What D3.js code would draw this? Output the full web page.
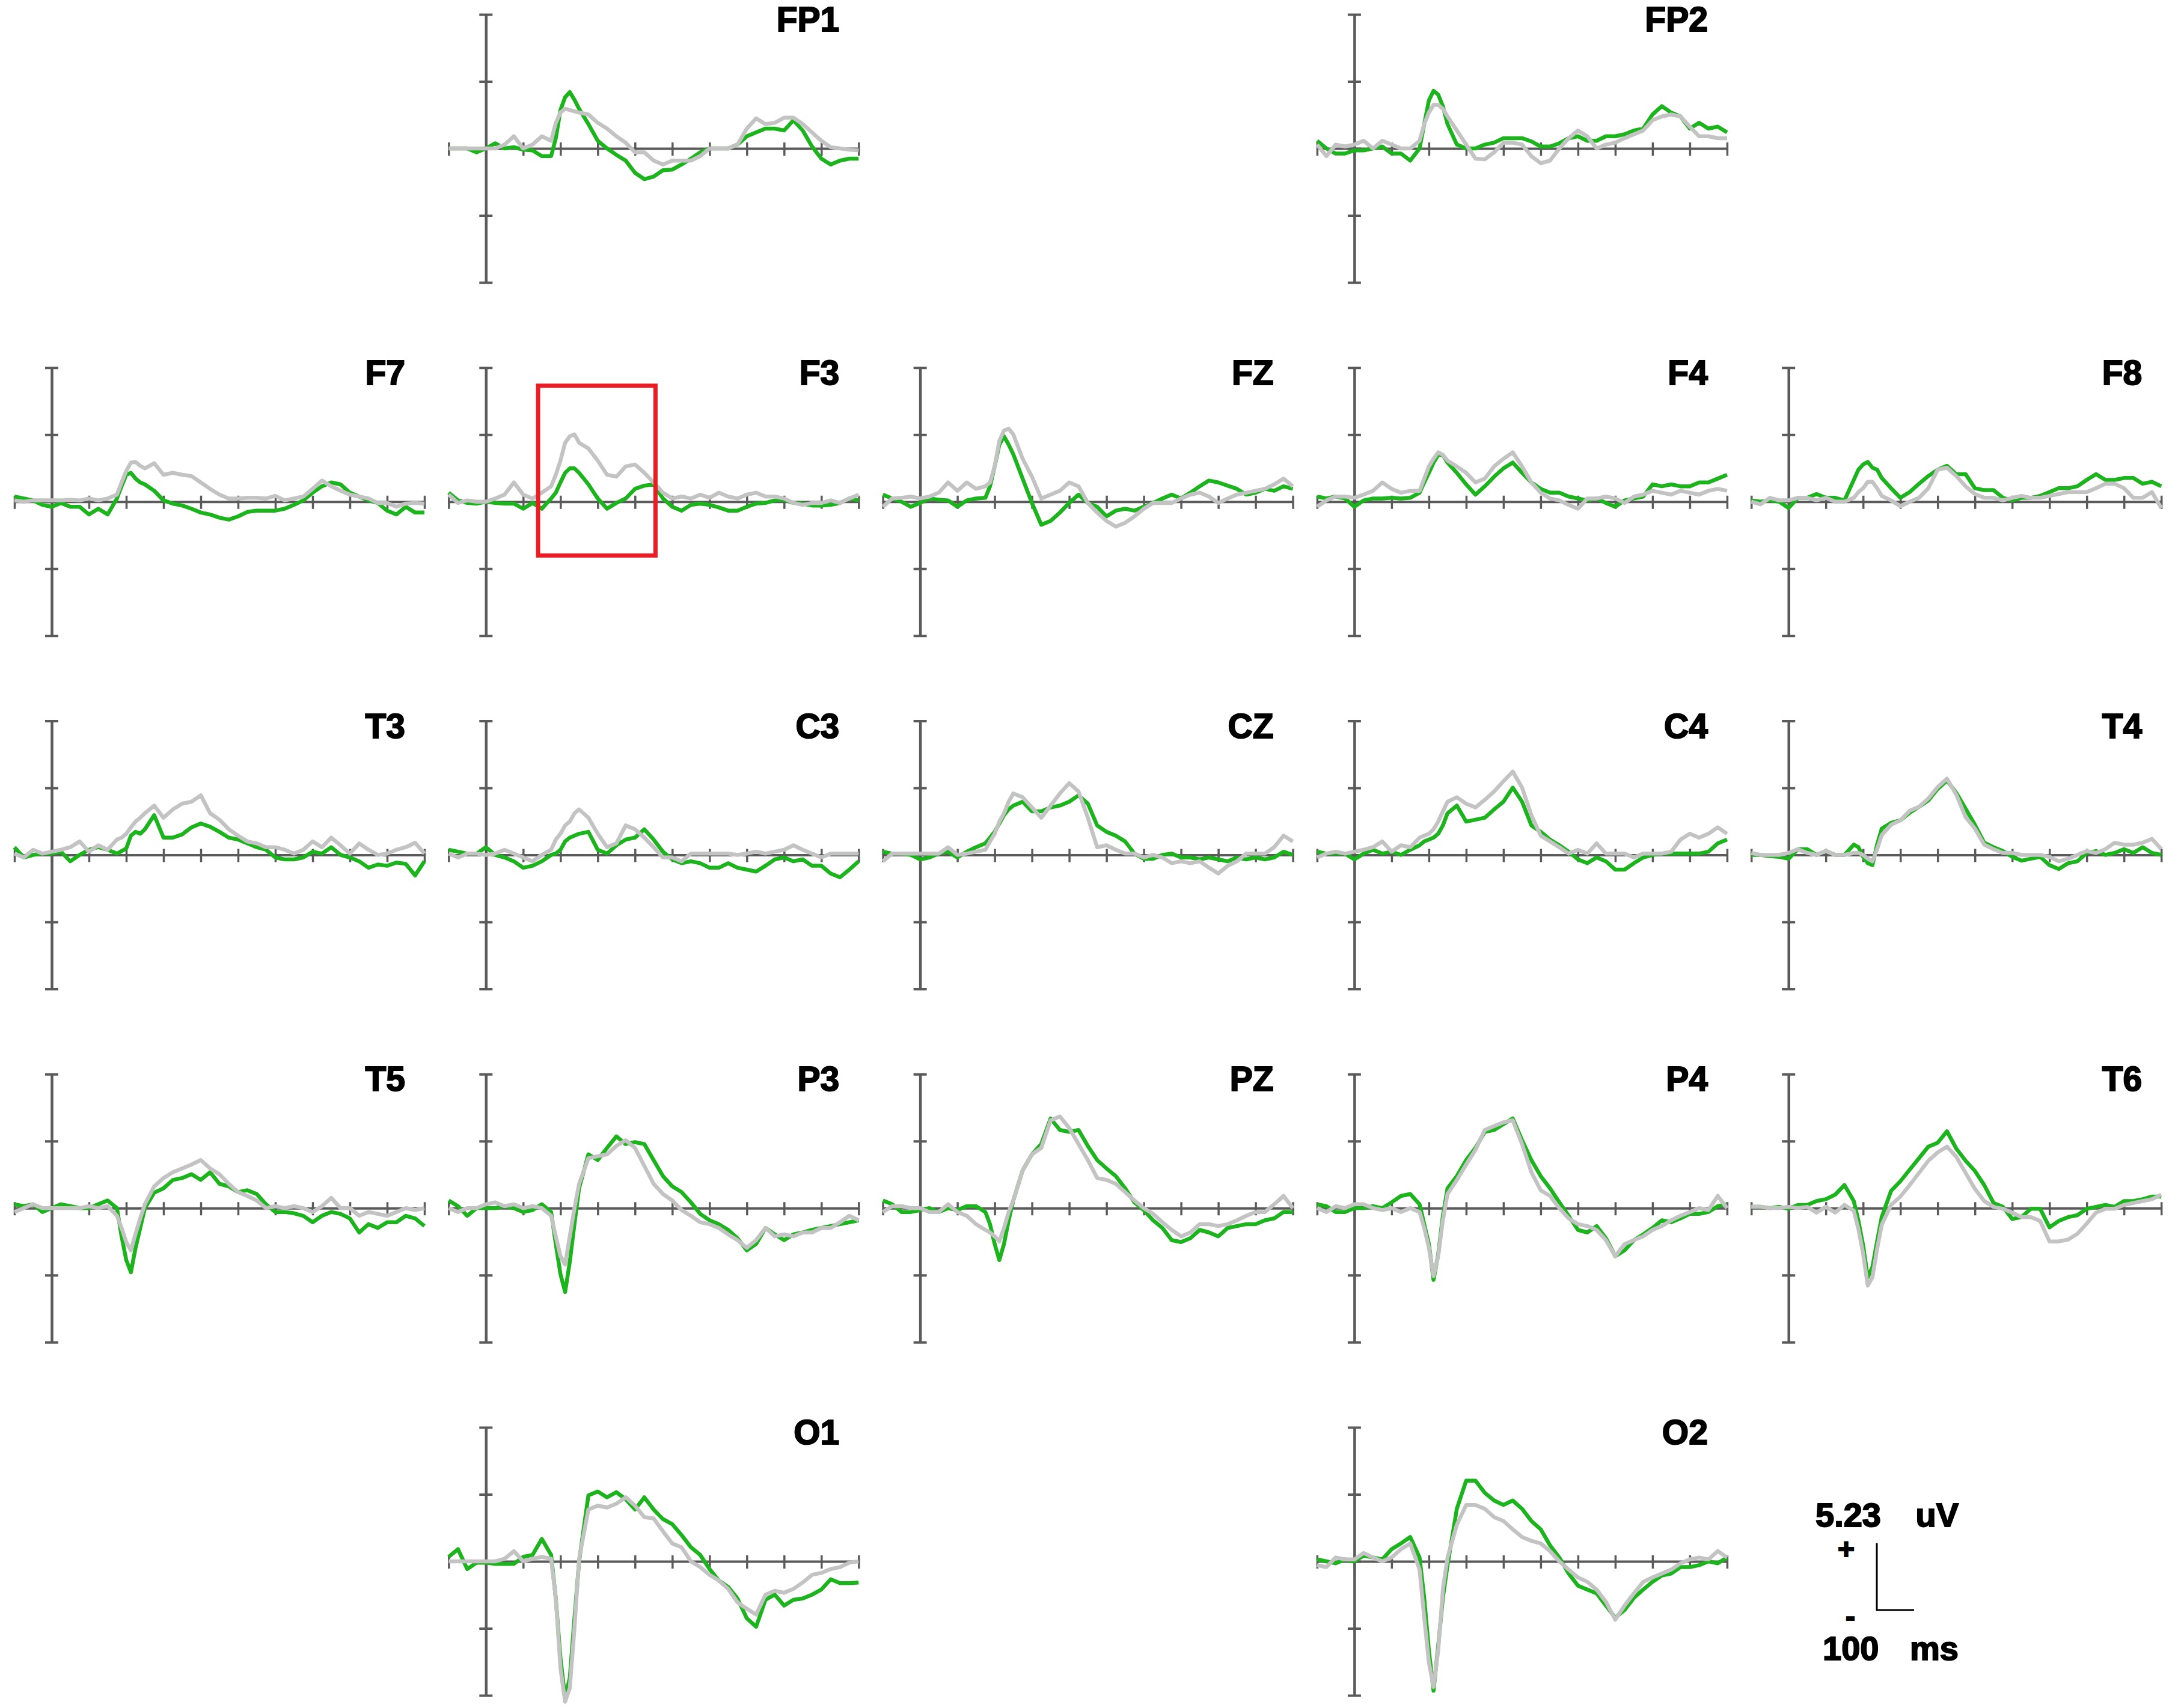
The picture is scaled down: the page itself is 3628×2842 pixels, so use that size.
<!DOCTYPE html>
<html><head><meta charset="utf-8">
<script src="https://cdn.jsdelivr.net/npm/d3@7"></script>
<style>html,body{margin:0;padding:0;background:#fff}</style>
</head><body><svg id="chart" width="3628" height="2842"></svg>
<script>
// ---------- DATA ----------
const times = [-100,-75,-50,-25,0,25,50,75,100,125,150,175,187.5,200,212.5,225,237.5,250,275,300,325,350,375,400,425,450,475,500,525,550,575,600,625,650,675,700,725,750,775,800,825,850,875,900,925,950,975,1000];
const xTicks = [-100,0,100,200,300,400,500,600,700,800,900,1000];
const scaleAmp = 5.23;   // uV per tick
const scaleTime = 100;   // ms
const yTicks = [-2*scaleAmp, -scaleAmp, 0, scaleAmp, 2*scaleAmp];

const FP1_green = [0,0,0,-0.3,0,0.4,0,0.1,-0.1,-0.15,-0.6,-0.6, 0.8,3.0,4.0,4.4,3.8, 3.1,1.9,0.6,0,-0.5,-0.95,-1.9,-2.4,-2.2,-1.7,-1.65,-1.25,-0.8,-0.3,0,0,0,0.3,0.95,1.25,1.55,1.55,1.4,2.2,1.4,0.15,-0.8,-1.25,-0.95,-0.8,-0.8];
const FP1_gray = [0,0,0,0,0,0,0.3,0.95,0,0.3,0.95,0.6, 2.0,2.8,3.1,3.0,2.9, 2.8,2.65,2.0,1.55,0.95,0.45,-0.3,-0.3,-0.95,-1.25,-0.95,-0.95,-0.95,-0.6,0,0,0,0.3,1.55,2.35,1.9,2.0,2.4,2.4,1.9,1.25,0.6,0.1,0,-0.1,-0.15];
const FP2_green = [0.6,0,-0.4,-0.4,-0.15,-0.15,0,0.15,-0.4,-0.4,-0.95,0, 1.9,3.75,4.5,4.2,3.3, 1.9,0.3,0,0,0.3,0.45,0.8,0.8,0.8,0.55,0.15,0.15,0.4,0.8,0.95,0.6,0.6,0.95,0.95,1.1,1.4,1.55,2.65,3.3,2.8,2.5,1.55,2.0,1.55,1.7,1.25];
const FP2_gray = [0.3,-0.6,0.3,0.15,0.3,0.6,0,0.6,0.3,0,0,0.6, 1.9,2.8,3.4,3.4,3.1, 2.5,1.4,0.3,-0.8,-0.85,-0.3,0.45,0.45,0.3,-0.6,-1.15,-0.95,0,0.8,1.4,0.95,0,0.3,0.45,0.8,1.1,1.4,2.2,2.5,2.65,2.5,1.7,0.95,0.95,0.8,0.8];
const F7_green = [0.4,0.25,0.1,-0.25,-0.4,-0.1,-0.4,-0.4,-1.0,-0.55,-1.0,0.25, 1.2,2.1,2.25,1.8,1.5, 1.35,0.85,0.1,-0.15,-0.3,-0.55,-0.85,-1.0,-1.25,-1.4,-1.15,-0.8,-0.7,-0.7,-0.7,-0.55,-0.25,0.1,0.7,1.2,1.5,1.35,0.7,0.4,0.1,-0.1,-0.7,-1.0,-0.4,-0.85,-0.85];
const F7_gray = [0.1,0,0.1,0.1,0.1,0.1,0.15,0.1,0.25,0.1,0.25,0.55, 1.5,2.4,3.05,3.1,2.8, 2.6,3.0,2.1,2.25,2.1,2.0,1.5,1.0,0.55,0.25,0.25,0.3,0.3,0.25,0.45,0.1,0.25,0.4,1.0,1.65,1.2,0.85,0.55,0.4,0.25,-0.1,-0.1,-0.4,-0.15,-0.1,-0.15];
const F3_green = [0.7,0.1,-0.1,-0.15,0,-0.1,-0.15,-0.15,-0.55,-0.1,-0.55,0.25, 0.7,1.5,2.25,2.6,2.6, 2.25,1.35,0.25,-0.55,-0.1,0.25,1.0,1.25,1.35,0.25,-0.4,-0.7,-0.25,-0.15,-0.25,-0.45,-0.7,-0.7,-0.4,-0.15,-0.1,0.1,0.15,-0.1,-0.15,-0.3,-0.3,-0.25,-0.1,0.25,0.1];
const F3_gray = [0.55,-0.1,0.1,0,0,0.25,0.55,1.5,0.55,0.25,0.7,1.2, 2.1,3.2,4.6,5.1,5.25, 4.6,4.15,3.2,2.1,1.95,2.75,2.9,2.25,1.5,0.7,0.25,0.4,0.25,0.55,0.3,0.7,0.4,0.25,0.55,0.7,0.4,0.4,0.25,-0.1,-0.25,-0.1,-0.1,0.1,-0.1,0.25,0.55];
const FZ_green = [0.55,0.25,0,-0.4,-0.1,0.25,0.15,0.1,-0.4,0.1,0.25,0.3, 1.2,2.75,4.45,5.1,4.45, 3.7,1.8,-0.1,-1.8,-1.5,-0.85,-0.1,0.55,-0.1,-0.4,-1.15,-0.7,-0.55,-0.7,-0.4,-0.1,0.25,0.55,0.25,0.7,1.2,1.65,1.5,1.25,1.0,0.55,0.7,1.0,0.85,1.2,1.0];
const FZ_gray = [-0.4,0.25,0.3,0.4,0.25,0.4,0.7,1.5,0.85,1.5,1.0,1.2, 1.5,2.75,4.75,5.55,5.7, 5.25,3.35,1.95,0.25,0.55,0.85,1.5,1.2,-0.1,-0.85,-1.5,-1.95,-1.65,-1.15,-0.55,-0.1,-0.1,-0.1,0.25,0.55,0.7,0.4,-0.1,0.25,0.55,0.7,0.85,1.0,1.35,1.8,1.2];
const F4_green = [0.4,0.25,0.4,0.25,-0.4,0.1,0.25,0.25,0.3,0.25,0.3,0.7, 1.5,2.25,3.05,3.65,3.65, 3.05,2.25,1.35,0.55,1.2,1.95,2.6,3.05,2.25,1.5,1.0,0.7,0.7,0.4,0.25,0.1,0.25,-0.1,-0.4,0.1,0.25,0.4,1.35,1.2,1.35,1.2,1.2,1.5,1.5,1.8,2.1];
const F4_gray = [-0.4,0.1,0.4,0.4,0.3,0.55,0.85,1.5,1.0,0.7,0.85,0.85, 1.8,2.75,3.35,3.85,3.65, 3.2,2.75,2.25,1.5,1.8,2.75,3.35,3.85,2.75,1.5,0.7,0.25,0.1,-0.25,-0.55,0.25,0.25,0.4,0.25,-0.1,0.4,0.55,0.85,0.7,0.55,0.85,0.7,0.55,0.85,1.0,0.85];
const F8_green = [0.1,0,0.1,0,-0.5,0.3,0.3,0.6,0.3,0.3,0.1,1.7, 2.5,2.9,3.1,2.65,2.5, 1.85,1.05,0.3,0.75,1.4,2.0,2.5,2.8,2.15,2.15,1.05,0.9,0.9,0.3,0.1,0.3,0.3,0.45,0.75,1.05,1.05,1.2,1.7,2.15,1.7,1.7,1.85,1.85,1.4,1.55,1.2];
const F8_gray = [0,-0.2,0.3,0.1,0.1,0.3,0.3,0.1,0.3,0,0,0.3, 0.75,1.05,1.55,1.55,1.05, 0.45,0.1,-0.35,0,0.3,1.05,2.5,2.65,2.0,1.2,0.6,0.3,0.3,0.1,0.3,0.45,0.3,0.3,0.45,0.6,0.75,0.75,0.75,1.05,1.4,1.4,1.05,0.3,0.3,0.75,-0.5];
const T3_green = [0.6,-0.2,0,0.1,0.1,0.25,-0.5,0,0.4,0.6,0.4,0.1, 0.3,0.5,1.5,1.8,1.65, 2.0,3.1,1.35,1.35,1.6,2.15,2.45,2.2,1.8,1.35,1.2,0.9,0.6,0.4,-0.2,-0.35,-0.35,-0.2,0.25,0.1,0.6,0,-0.2,-0.5,-1.0,-0.75,-0.85,-0.6,-0.7,-1.6,-0.5];
const T3_gray = [0.1,-0.2,0.4,0.1,0.25,0.4,0.6,1.05,0.25,0.75,0.4,1.2, 1.35,1.65,2.15,2.6,2.9, 3.25,3.85,2.9,3.55,4.0,4.15,4.65,3.25,2.75,2.0,1.5,1.05,0.9,0.6,0.6,0.4,0.1,0.4,1.05,0.6,1.35,0.75,0.1,0.9,0.4,0,0.1,0.4,0.6,0.95,0.1];
const C3_green = [0.4,0.25,0.1,0.1,0.6,0,-0.2,-0.5,-1.0,-0.85,-0.5,0, 0.1,0.4,1.05,1.35,1.5, 1.65,1.8,0.4,0.1,0.75,1.2,1.35,2.0,1.2,0.25,-0.35,-0.65,-0.5,-0.65,-1.0,-1.0,-0.65,-1.0,-1.15,-1.3,-0.85,-0.35,-0.2,-0.5,-0.35,-0.85,-0.85,-1.45,-1.75,-1.15,-0.5];
const C3_gray = [0.1,-0.2,0.1,0.1,0,0.1,0.4,0.1,-0.2,-0.5,0,0.4, 1.2,1.65,2.3,2.6,3.25, 3.55,2.9,1.65,0.6,0.9,2.3,2.0,1.35,0.6,-0.2,-0.2,-0.5,0.1,0.1,0.1,0.1,0.1,0,0.1,0.25,0.1,0.25,0.4,0.75,0.4,0.1,-0.2,0.1,0.1,0.1,0.1];
const CZ_green = [0.25,0.1,0.1,0,-0.35,-0.2,0.1,0.25,-0.2,0.25,0.6,0.9, 1.35,1.8,2.45,3.1,3.55, 3.85,4.15,3.4,3.4,3.7,3.85,4.15,4.65,4.0,2.3,1.8,1.5,1.05,0.1,-0.3,-0.3,0,0.1,-0.2,-0.2,-0.35,-0.2,-0.35,-0.5,-0.2,-0.35,-0.2,-0.35,-0.2,0.25,0];
const CZ_gray = [-0.5,0.1,0.1,0.1,0.1,0.1,0.1,0.6,0,0.1,0.25,0.4, 1.05,1.65,2.6,3.25,4.15, 4.8,4.5,3.7,2.9,3.85,4.8,5.6,4.95,2.9,0.6,0.75,0.4,0.1,0.1,-0.2,0,-0.2,-0.65,-0.5,-0.65,-0.5,-1.0,-1.45,-0.85,-0.5,0.1,0.1,0.1,0.6,1.5,1.05];
const C4_green = [0.25,0.1,0.1,0.1,-0.35,0.1,0.4,0.1,0.25,0,0.4,0.75, 1.05,1.2,1.35,1.65,2.3, 3.25,3.85,2.6,2.75,2.9,3.55,4.15,5.25,4.15,2.3,1.8,1.2,0.75,0.25,-0.35,-0.65,-0.2,-0.5,-1.15,-1.15,-0.65,-0.2,0,0.1,0.1,0.1,0.1,0.1,0.25,0.9,1.2];
const C4_gray = [-0.2,0.1,0.25,0.1,0.25,0.4,0.6,1.05,0.25,0.75,0.6,1.35, 1.5,1.65,2.0,2.6,3.4, 4.15,4.5,4.0,3.7,4.3,4.95,5.75,6.5,5.25,3.1,1.5,1.05,0.6,0.1,0.4,0.1,0.9,0.1,0.1,0.1,-0.2,0.1,0.1,0.1,0.25,1.2,1.65,1.35,1.65,2.15,1.65];
const T4_green = [0,0,-0.1,-0.15,-0.3,0.45,0.45,0,0.3,0,0,0.8, 0.6,-0.15,-0.65,-0.8,0.8, 2.05,2.5,2.7,3.3,3.75,4.25,5.15,5.8,4.85,3.6,2.35,0.95,0.6,0.3,-0.15,-0.45,-0.3,-0.15,-0.8,-1.1,-0.65,-0.5,0.15,0.3,0,0.15,0.45,0.15,0.6,0.15,0];
const T4_gray = [0.15,0,0,0,0.15,0.45,0.15,0,0.3,0,0,0.15, 0.15,0,-0.3,-0.5,0.45, 1.55,2.35,2.7,3.45,3.75,4.4,5.3,5.95,4.7,2.95,2.05,0.8,0.45,0.15,0.15,0,0,0,-0.15,-0.5,-0.3,0,0.3,0.15,0.45,0.95,0.8,0.8,0.95,1.25,0.45];
const T5_green = [0.3,0.15,0.3,-0.3,0,0.3,0.15,0,0,0.3,0.6,0, -2.2,-4.05,-5.0,-3.1,-1.55, 0,1.2,1.55,2.2,2.35,2.65,2.2,2.8,1.9,1.7,1.25,1.4,1.1,0.3,-0.3,-0.3,-0.4,-0.6,-1.1,-0.6,-0.3,-0.45,-0.8,-1.9,-1.25,-1.55,-1.1,-1.1,-0.6,-0.8,-1.4];
const T5_gray = [-0.3,0,0.3,0,0,0,0,0,0.15,0,0.15,-0.6, -1.55,-2.65,-3.3,-2.0,-0.8, 0.3,1.7,2.35,2.8,3.1,3.4,3.75,3.1,2.65,1.9,1.25,0.95,0.6,0,0.15,0,0.15,0,-0.3,0.15,0.8,0,0,-0.6,-0.3,-0.45,-0.6,-0.3,0,-0.15,0];
const P3_green = [0.6,0.15,-0.6,0,0,0,0.15,0,-0.3,-0.15,0.3,-0.3, -2.8,-5.15,-6.55,-4.2,-1.25, 1.55,4.2,3.75,4.7,5.6,5.0,5.15,5.0,3.75,2.5,1.7,1.25,0.45,-0.45,-0.95,-1.25,-1.7,-2.35,-3.3,-2.8,-1.55,-2.05,-2.5,-2.05,-1.9,-1.7,-1.55,-1.4,-1.25,-1.1,-0.95];
const P3_gray = [0,-0.3,0,0,0.3,0.45,0.15,0.3,0,0.15,0,-0.6, -2.2,-3.75,-4.4,-2.2,0, 1.9,3.9,4.05,4.2,4.85,5.3,4.7,3.3,1.9,1.1,0.6,-0.15,-0.6,-1.1,-1.25,-1.55,-2.05,-2.5,-3.1,-2.5,-1.55,-2.2,-2.05,-2.2,-1.9,-1.9,-1.55,-1.55,-1.1,-0.6,-0.95];
const PZ_green = [0.6,0.3,-0.3,-0.3,-0.15,0,-0.3,0,-0.15,0.15,0.15,-0.3, -1.25,-2.8,-4.05,-2.8,-0.95, 0.6,2.95,4.2,5.0,7.0,6.1,5.95,6.1,4.85,3.75,3.1,2.5,1.55,0.45,-0.15,-0.95,-1.55,-2.5,-2.65,-2.35,-1.7,-1.9,-2.2,-1.55,-1.4,-1.25,-1.25,-0.95,-0.8,-0.3,-0.3];
const PZ_gray = [-0.3,0.15,0.15,0,0,-0.3,-0.3,0.3,-0.3,-0.6,-1.25,-1.7, -1.9,-2.2,-2.6,-1.55,-0.3, 0.6,2.95,4.2,4.7,6.85,7.15,6.25,5.0,3.75,2.35,2.2,1.9,1.25,0.6,0,-0.45,-1.1,-1.7,-2.2,-1.9,-1.25,-1.25,-1.4,-1.25,-0.95,-0.6,-0.3,-0.3,0.3,0.95,0];
const P4_green = [0.3,0.15,-0.3,-0.3,0,0,0.15,0,0.45,0.95,1.1,0.3, -1.25,-2.8,-5.6,-3.6,-0.6, 1.55,2.5,3.75,4.7,5.95,6.1,6.55,7.0,5.3,3.75,2.5,1.55,0.45,-0.6,-1.7,-1.9,-1.4,-2.35,-3.75,-3.3,-2.5,-2.05,-1.55,-0.95,-1.1,-0.8,-0.45,-0.45,-0.3,0.15,0.3];
const P4_gray = [0,-0.3,0.15,0,0.3,0.3,0,-0.15,0,-0.3,0,-0.3, -1.55,-3.1,-5.3,-3.75,-0.95, 1.1,2.2,3.4,4.55,6.1,6.4,6.7,6.85,5.0,2.8,1.4,0.95,0,-0.8,-1.25,-1.4,-1.7,-2.5,-3.75,-2.8,-2.5,-2.2,-1.7,-1.4,-0.95,-0.6,-0.3,0,-0.15,0.95,0];
const T6_green = [0.1,0.1,0,0.1,-0.05,0.25,0.25,0.55,0.7,1.05,1.8,0.55, -1.0,-2.9,-5.4,-4.6,-2.6, -0.7,1.35,2.1,3.0,3.9,4.8,5.1,6.0,4.65,3.7,2.9,1.8,0.4,0.1,-0.85,-0.7,-0.05,-0.05,-1.5,-1.0,-0.7,-0.55,-0.05,0.1,0.25,0.1,0.55,0.55,0.7,0.9,0.9];
const T6_gray = [0.1,0.1,0,0,0.1,0,0.1,-0.35,0.1,-0.35,0.25,-0.2, -1.65,-3.55,-6.05,-5.4,-3.2, -1.3,0.25,0.9,1.8,2.75,3.7,4.35,4.8,4.0,2.75,1.5,0.55,0.1,-0.05,-0.35,-0.7,-0.7,-1.0,-2.6,-2.6,-2.45,-2.0,-1.2,-0.35,-0.05,-0.05,0.25,0.4,0.55,0.7,1.05];
const O1_green = [0.35,0.95,-0.6,-0.1,-0.1,-0.2,-0.2,-0.2,0.35,0.5,1.75,0.5, -2.9,-7.55,-10.65,-9.1,-4.45, 0,5.15,5.45,5.0,5.4,4.85,4.05,5.0,4.05,3.3,2.9,2.05,1.1,0.5,-0.6,-1.5,-2.0,-2.9,-4.45,-5.1,-3.0,-2.6,-3.45,-3.0,-2.9,-2.6,-2.2,-1.4,-1.7,-1.7,-1.65];
const O1_gray = [0,0,0,0,0,0,0.2,0.8,0,0.2,0.35,0.2, -2.9,-8.35,-10.95,-9.9,-5.25, 0.2,4.05,4.35,4.2,4.5,5.0,4.35,3.45,3.35,2.35,1.4,1.1,0,-0.45,-1.05,-1.5,-2.15,-3.2,-3.7,-4.15,-2.6,-2.3,-2.45,-2.15,-1.65,-1.05,-0.9,-0.6,-0.45,-0.1,0];
const O2_green = [0.15,0,-0.15,0.15,0,0.45,0.3,0.15,0.95,1.4,1.9,0.3, -2.85,-6.95,-10.1,-6.6,-2.85, -0.3,4.1,6.3,6.3,5.35,4.75,4.4,4.75,4.1,3.15,2.5,1.25,0.3,-0.95,-1.9,-2.2,-2.5,-3.45,-4.4,-3.8,-2.85,-2.2,-1.6,-1.1,-0.95,-0.45,-0.45,-0.3,0,-0.15,0.3];
const O2_gray = [-0.3,-0.45,0.3,0.15,0.15,0.65,0.3,0,0.3,0.95,1.4,-0.65, -4.4,-7.9,-9.8,-6.95,-2.2, 0.3,2.85,4.4,4.4,4.1,3.45,3.15,2.5,1.9,1.6,1.4,0.8,0,-0.65,-1.25,-1.6,-2.2,-3.15,-4.55,-3.45,-2.5,-1.6,-1.25,-0.95,-0.65,-0.15,0.15,0.3,0.15,0.8,0.3];

// highlighted window (F3): time range (ms) and amplitude range (uV)
const highlightChannel = "F3";
const highlightTime = [140, 455];
const highlightAmp = [-4.2, 9.05];

// ---------- LAYOUT ----------
const channels = ["FP1","FP2","F7","F3","FZ","F4","F8","T3","C3","CZ","C4","T4","T5","P3","PZ","P4","T6","O1","O2"];
const gridPos = {FP1:[0,1],FP2:[0,3],F7:[1,0],F3:[1,1],FZ:[1,2],F4:[1,3],F8:[1,4],
  T3:[2,0],C3:[2,1],CZ:[2,2],C4:[2,3],T4:[2,4],T5:[3,0],P3:[3,1],PZ:[3,2],P4:[3,3],T6:[3,4],O1:[4,1],O2:[4,3]};
const series = {
  FP1:[FP1_green,FP1_gray],FP2:[FP2_green,FP2_gray],F7:[F7_green,F7_gray],F3:[F3_green,F3_gray],
  FZ:[FZ_green,FZ_gray],F4:[F4_green,F4_gray],F8:[F8_green,F8_gray],T3:[T3_green,T3_gray],
  C3:[C3_green,C3_gray],CZ:[CZ_green,CZ_gray],C4:[C4_green,C4_gray],T4:[T4_green,T4_gray],
  T5:[T5_green,T5_gray],P3:[P3_green,P3_gray],PZ:[PZ_green,PZ_gray],P4:[P4_green,P4_gray],
  T6:[T6_green,T6_gray],O1:[O1_green,O1_gray],O2:[O2_green,O2_gray]};

const colX = c => 86 + 722.3*c;
const rowY = r => 247 + 587.75*r;
const PX100 = 62;     // px per 100 ms
const HALF = 223;     // px from baseline to axis end
const AXIS = "#5a5a5a", GREEN = "#1cb41c", GRAY = "#c3c3c3";
const FONT = "'Liberation Sans', Arial, sans-serif";

const svg = d3.select("#chart");
svg.append("rect").attr("width",3628).attr("height",2842).attr("fill","#fff");

channels.forEach(ch => {
  const [r,c] = gridPos[ch];
  const ax = colX(c), by = rowY(r);
  const x = d3.scaleLinear().domain([-100,1000]).range([ax - PX100, ax + PX100*10]);
  const y = d3.scaleLinear().domain([-2*scaleAmp, 2*scaleAmp]).range([by + HALF, by - HALF]);
  const g = svg.append("g");

  const xa = g.append("g").attr("transform",`translate(0,${by})`)
    .call(d3.axisBottom(x).tickValues(xTicks).tickFormat("").tickSizeInner(12).tickSizeOuter(0));
  xa.select(".domain").attr("stroke",AXIS).attr("stroke-width",4);
  xa.selectAll(".tick line").attr("y1",-10).attr("y2",12).attr("stroke",AXIS).attr("stroke-width",3.5);

  const ya = g.append("g").attr("transform",`translate(${ax},0)`)
    .call(d3.axisLeft(y).tickValues(yTicks).tickFormat("").tickSizeInner(11).tickSizeOuter(0));
  ya.select(".domain").attr("stroke",AXIS).attr("stroke-width",4.5);
  ya.selectAll(".tick line").attr("x1",11).attr("x2",-11).attr("stroke",AXIS).attr("stroke-width",4);

  const line = d3.line().x(d => x(d[0])).y(d => y(d[1]));
  const [gr, gy] = series[ch];
  if (gr.length !== times.length || gy.length !== times.length) console.error(ch, gr.length, gy.length);
  g.append("path").attr("d", line(times.map((t,i)=>[t,gr[i]]).filter(d=>d[1]!==undefined)))
    .attr("fill","none").attr("stroke",GREEN).attr("stroke-width",6.5).attr("stroke-linejoin","round");
  g.append("path").attr("d", line(times.map((t,i)=>[t,gy[i]]).filter(d=>d[1]!==undefined)))
    .attr("fill","none").attr("stroke",GRAY).attr("stroke-width",6.5).attr("stroke-linejoin","round");

  g.append("text").attr("x", ax + 588).attr("y", by - 195).attr("text-anchor","end")
    .attr("font-family",FONT).attr("font-weight",700).attr("font-size",57).attr("fill","#000")
    .attr("stroke","#000").attr("stroke-width",2).text(ch);

  if (ch === highlightChannel) {
    g.append("rect").attr("x", x(highlightTime[0])).attr("y", y(highlightAmp[1]))
      .attr("width", x(highlightTime[1]) - x(highlightTime[0]))
      .attr("height", y(highlightAmp[0]) - y(highlightAmp[1]))
      .attr("fill","none").attr("stroke","#ec1c24").attr("stroke-width",7);
  }
});

// ---------- SCALE BAR ----------
const ox = 3122, oy = 2679;
const sx = d3.scaleLinear().domain([0, 100]).range([ox, ox + PX100]);
const sy = d3.scaleLinear().domain([0, scaleAmp]).range([oy, oy - HALF/2]);
svg.append("path").attr("d", `M${sx(0)},${sy(scaleAmp)}V${sy(0)}H${sx(scaleTime)}`)
  .attr("fill","none").attr("stroke","#000").attr("stroke-width",3);
const txt = (x, yv, s, anchor, size) => svg.append("text").attr("x",x).attr("y",yv)
  .attr("text-anchor",anchor).attr("font-family",FONT).attr("font-weight",700)
  .attr("font-size",size).attr("fill","#000").attr("stroke","#000").attr("stroke-width",2).text(s);
txt(3020, 2540, scaleAmp.toFixed(2), "start", 56);
txt(3258, 2540, "uV", "end", 56);
txt(3071, 2594, "+", "middle", 48);
txt(3078, 2706, "-", "middle", 48);
txt(3032, 2762, String(scaleTime), "start", 56);
txt(3258, 2762, "ms", "end", 56);
</script></body></html>
